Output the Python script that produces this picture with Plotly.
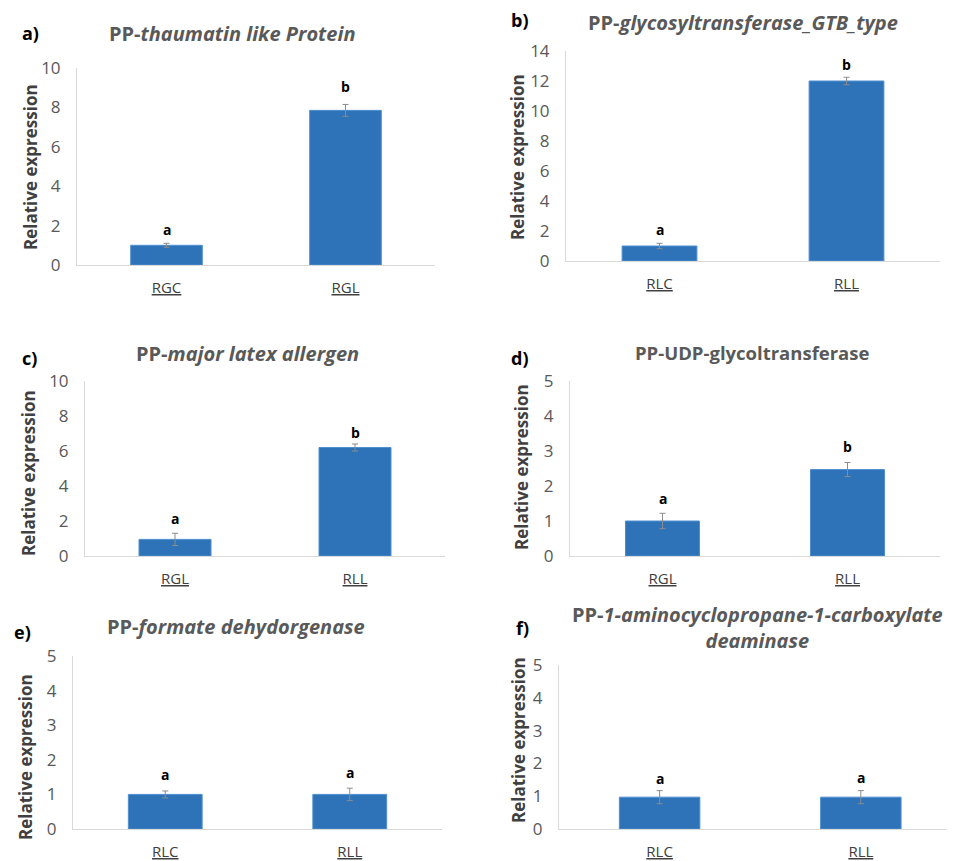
import plotly.graph_objects as go

W, H = 955, 861
PAGE_OFFSET = 8  # body margin of the page that shows the figure

# ---- data ----
panel_ids = ["a", "b", "c", "d", "e", "f"]
titles = [
    "<b>PP-<i>thaumatin like Protein</i></b>",
    "<b>PP-<i>glycosyltransferase_GTB_type</i></b>",
    "<b>PP-<i>major latex allergen</i></b>",
    "<b>PP-UDP-glycoltransferase</b>",
    "<b>PP-<i>formate dehydorgenase</i></b>",
    "<b>PP-<i>1-aminocyclopropane-1-carboxylate</i></b><br><b><i>deaminase</i></b>",
]
cats_a = ["RGC", "RGL"]
vals_a = [1.0, 7.85]
errs_a = [0.10, 0.30]
sig_a = ["a", "b"]

cats_b = ["RLC", "RLL"]
vals_b = [1.0, 12.0]
errs_b = [0.18, 0.25]
sig_b = ["a", "b"]

cats_c = ["RGL", "RLL"]
vals_c = [0.95, 6.2]
errs_c = [0.35, 0.20]
sig_c = ["a", "b"]

cats_d = ["RGL", "RLL"]
vals_d = [1.0, 2.47]
errs_d = [0.22, 0.20]
sig_d = ["a", "b"]

cats_e = ["RLC", "RLL"]
vals_e = [1.0, 1.0]
errs_e = [0.10, 0.18]
sig_e = ["a", "a"]

cats_f = ["RLC", "RLL"]
vals_f = [0.97, 0.97]
errs_f = [0.20, 0.20]
sig_f = ["a", "a"]

y_max = [10, 14, 10, 5, 5, 5]
y_dtick = [2, 2, 2, 1, 1, 1]

cats = [cats_a, cats_b, cats_c, cats_d, cats_e, cats_f]
vals = [vals_a, vals_b, vals_c, vals_d, vals_e, vals_f]
errs = [errs_a, errs_b, errs_c, errs_d, errs_e, errs_f]
sigs = [sig_a, sig_b, sig_c, sig_d, sig_e, sig_f]

# ---- layout geometry (pixels in the final picture) ----
boxes = [
    (77, 435, 68, 265),
    (566, 940, 51, 261),
    (85, 445, 381, 556),
    (570, 940, 381, 556),
    (73, 442, 656, 829),
    (559, 955, 665, 829),
]
x_ranges = [[-0.5, 1.5]] * 5 + [[-0.5, 1.468]]
title_pos = [(232, 34), (743, 23), (247, 353), (752, 352), (236, 626), (757, 627)]
title_size = [20, 20, 20, 18.5, 20, 20]
letter_pos = [(30, 33), (520, 20), (29, 358), (520, 358), (22, 632), (522, 628)]
ytitle_pos = [(30, 167), (517, 157), (28, 473), (522, 467), (25, 757), (518, 740)]
sig_shift = [[14, 18], [14, 13], [15, 12], [15, 16], [16, 16], [12, 13]]

def px_x(x):
    return (x - PAGE_OFFSET) / W

def px_y(y):
    return 1 - (y - PAGE_OFFSET) / H

BAR = "#2e72b8"
FONT = "Open Sans"

fig = go.Figure()
layout = dict(
    width=W, height=H, margin=dict(l=0, r=0, t=0, b=0),
    paper_bgcolor="white", plot_bgcolor="white",
    showlegend=False, bargap=0.6, font=dict(family=FONT),
)
annotations = []

for i in range(6):
    n = "" if i == 0 else str(i + 1)
    xa, ya = "x" + n, "y" + n
    x0, x1, yt, yb = boxes[i]
    fig.add_trace(go.Bar(
        x=cats[i], y=vals[i], xaxis=xa, yaxis=ya,
        marker=dict(color=BAR, line=dict(color="#4f8fd0", width=1)),
        error_y=dict(type="data", array=errs[i], visible=True,
                     color="#8c8c8c", thickness=1, width=3),
        hoverinfo="x+y",
    ))
    layout["xaxis" + n] = dict(
        domain=[px_x(x0), px_x(x1)], anchor=ya, type="category",
        range=x_ranges[i], showline=True, linecolor="#d9d9d9", linewidth=1,
        showgrid=False, zeroline=False, ticks="", automargin=False,
        tickvals=cats[i], ticktext=[f"<u>{c}</u>" for c in cats[i]],
        tickfont=dict(size=15, color="#404040", family=FONT),
        ticklabelstandoff=9,
    )
    layout["yaxis" + n] = dict(
        domain=[px_y(yb), px_y(yt)], anchor=xa, range=[0, y_max[i]],
        dtick=y_dtick[i], tick0=0, showline=True, linecolor="#d9d9d9",
        linewidth=1, showgrid=False, zeroline=False, ticks="", automargin=False,
        tickfont=dict(size=17, color="#595959", family=FONT),
        ticklabelstandoff=12,
    )
    for j, (c, v, e, s) in enumerate(zip(cats[i], vals[i], errs[i], sigs[i])):
        annotations.append(dict(
            x=c, y=v + e, xref=xa, yref=ya, text=f"<b>{s}</b>",
            showarrow=False, yanchor="middle", yshift=sig_shift[i][j],
            font=dict(size=14, color="black", family=FONT),
        ))
    tx, ty = title_pos[i]
    annotations.append(dict(
        x=px_x(tx), y=px_y(ty), xref="paper", yref="paper", text=titles[i],
        showarrow=False, xanchor="center", yanchor="middle",
        font=dict(size=title_size[i], color="#595959", family=FONT),
    ))
    lx, ly = letter_pos[i]
    annotations.append(dict(
        x=px_x(lx), y=px_y(ly), xref="paper", yref="paper",
        text=f"<b>{panel_ids[i]})</b>", showarrow=False,
        xanchor="center", yanchor="middle",
        font=dict(size=18, color="black", family=FONT),
    ))
    yx, yy = ytitle_pos[i]
    annotations.append(dict(
        x=px_x(yx), y=px_y(yy), xref="paper", yref="paper",
        text="<b>Relative expression</b>", textangle=-90, showarrow=False,
        xanchor="center", yanchor="middle",
        font=dict(size=17, color="#404040", family=FONT),
    ))

layout["annotations"] = annotations
fig.update_layout(**layout)
fig.write_html("out.html")
